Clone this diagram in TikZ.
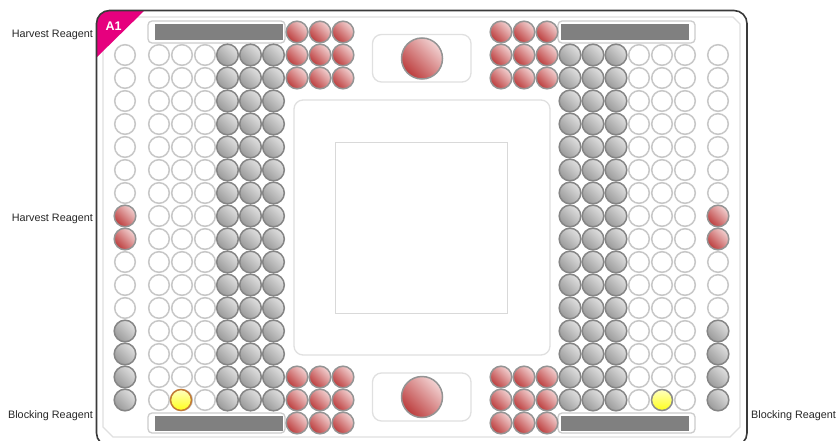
\documentclass[tikz,border=0pt]{standalone}
\usepackage{fontspec}
\setmainfont{Liberation Sans}
\definecolor{magentaA}{HTML}{E6007E}
\definecolor{plateedge}{HTML}{3A3A3A}
\definecolor{redlo}{HTML}{F2D2D2}
\definecolor{redhi}{HTML}{BC3C3C}
\definecolor{graylo}{HTML}{E0E0E0}
\definecolor{grayhi}{HTML}{9A9A9A}
\tikzset{
  px/.style={x=1pt,y=-1pt},
  well/.style={circle,inner sep=0pt,minimum size=21.6pt,line width=1.5pt},
  emptywell/.style={well,minimum size=20.6pt,draw=black!22,fill=white},
  graywell/.style={well,draw=black!48,left color=graylo,right color=grayhi,shading angle=-45},
  redwell/.style={well,draw=black!42,left color=redlo,right color=redhi,shading angle=-45},
  yellowwell/.style={well,minimum size=21pt,left color=yellow!25!white,right color=yellow!90!white,shading angle=0},
  bigwell/.style={redwell,minimum size=41pt},
  rim/.style={draw=black!12,line width=1.3pt,fill=white},
  barframe/.style={draw=black!20,line width=1.3pt,fill=white},
  bar/.style={draw=none,fill=black!50},
  lab/.style={inner sep=0pt,font=\fontsize{10.8}{12}\selectfont,text=black!85,anchor=east},
}
\begin{document}
\begin{tikzpicture}[px]
\useasboundingbox (0,0) rectangle (837,441);
\begin{scope}
\clip (0,0) rectangle (837,441);
% plate
\fill[white,rounded corners=13pt] (96.5,10.5) rectangle (747,446);
\draw[draw=black!12,line width=1.3pt] (110,17) -- (733,17) -- (740,24) -- (740,427) -- (730,437) -- (113,437) -- (103,427) -- (103,24) -- cycle;
\begin{scope}
\clip[rounded corners=13pt] (96.5,10.5) rectangle (747,446);
\fill[magentaA] (96,58) -- (96,10) -- (145,10) -- cycle;
\end{scope}
\draw[plateedge,line width=1.6pt,rounded corners=13pt] (96.5,10.5) rectangle (747,446);
\node[inner sep=0pt,text=white,font=\bfseries\fontsize{12.5}{13}\selectfont] (a1) at (113.5,26.5) {A1};
% frames and bars
\foreach \xa/\xb in {148/285,558/695}{
  \draw[barframe,rounded corners=4pt] (\xa,21) -- (\xb,21) -- (\xb,43) -- (\xa,43) -- cycle;
  \draw[barframe,rounded corners=4pt] (\xa,413) -- (\xb,413) -- (\xb,433) -- (\xa,433) -- cycle;
}
\fill[bar] (155,24) rectangle (283,40);
\fill[bar] (561,24) rectangle (689,40);
\fill[bar] (155,416) rectangle (283,431);
\fill[bar] (561,416) rectangle (689,431);
% centre
\draw[rim,rounded corners=9pt] (294,100) rectangle (550,355);
\draw[draw=black!15,line width=1pt] (335,142) rectangle (507,313);
\draw[rim,rounded corners=9pt] (372.5,34.5) rectangle (471,82);
\draw[rim,rounded corners=9pt] (372.5,373) rectangle (471,421);
\node[bigwell] (bigtop) at (422,58.5) {};
\node[bigwell] (bigbot) at (422,397) {};
% wells
\foreach \r [evaluate=\r as \y using {55+23*(\r-1)}] in {1,...,16}{
  \foreach \x in {159,182,205,639,662,685}{
    \node[emptywell] (e\x-\r) at (\x,\y) {};
  }
  \foreach \x in {227.5,250.5,273.5,570,593,616}{
    \node[graywell] (g\x-\r) at (\x,\y) {};
  }
  \foreach \x in {125,718}{
    \ifnum\r<8 \node[emptywell] (s\x-\r) at (\x,\y) {};
    \else\ifnum\r<10 \node[redwell] (s\x-\r) at (\x,\y) {};
    \else\ifnum\r<13 \node[emptywell] (s\x-\r) at (\x,\y) {};
    \else \node[graywell] (s\x-\r) at (\x,\y) {};
    \fi\fi\fi
  }
}
\foreach \x in {297,320,343,501,524,547}{
  \foreach \y in {32,55,78,377,400,423}{
    \node[redwell] (r\x-\y) at (\x,\y) {};
  }
}
\node[yellowwell,draw=orange!70!black!80] (yl) at (181,400) {};
\node[yellowwell,draw=black!45] (yr) at (662,400) {};
\end{scope}
% labels
\node[lab] (h1) at (93,34.5) {Harvest Reagent};
\node[lab] (h2) at (93,218.5) {Harvest Reagent};
\node[lab] (b1) at (93,415.5) {Blocking Reagent};
\node[lab,anchor=west] (b2) at (751,415.5) {Blocking Reagent};
\end{tikzpicture}
\end{document}
